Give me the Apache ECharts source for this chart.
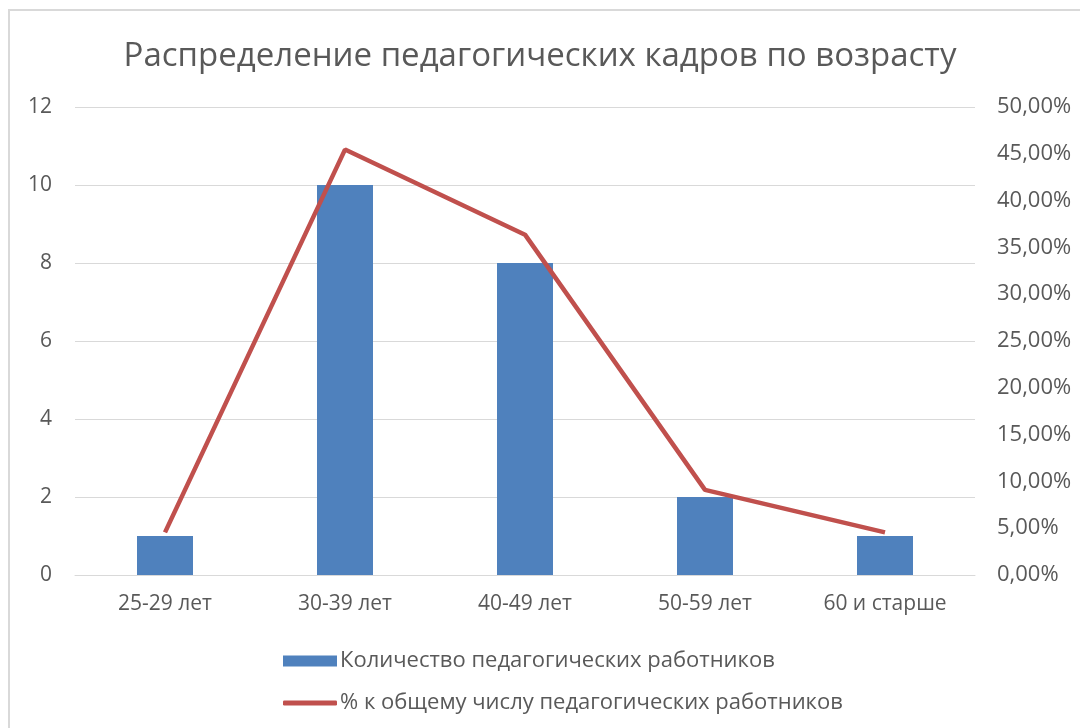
<!DOCTYPE html>
<html><head><meta charset="utf-8">
<script src="https://cdn.jsdelivr.net/npm/echarts@6/dist/echarts.min.js"></script>
<style>html,body{margin:0;padding:0;background:#fff}#c{width:1080px;height:728px}</style>
</head><body><div id="c"></div>
<script>
const categories = ['25-29 лет', '30-39 лет', '40-49 лет', '50-59 лет', '60 и старше'];
const counts = [1, 10, 8, 2, 1];
const percents = [4.55, 45.45, 36.36, 9.09, 4.55];
const leftTicks = [0, 2, 4, 6, 8, 10, 12];
const rightTicks = [0, 5, 10, 15, 20, 25, 30, 35, 40, 45, 50];
const seriesNames = ['Количество педагогических работников', '% к общему числу педагогических работников'];
const titleText = 'Распределение педагогических кадров по возрасту';

const FONT = '"Open Sans", sans-serif';
const TXT = '#595959';
const chart = echarts.init(document.getElementById('c'), null, {renderer: 'canvas'});
chart.setOption({
  backgroundColor: '#fff',
  animation: false,
  graphic: [{type: 'rect', shape: {x: 9, y: 10, width: 1200, height: 900}, style: {fill: 'none', stroke: '#D9D9D9', lineWidth: 2}, silent: true}],
  title: {text: titleText, left: 'center', top: 35, textStyle: {fontFamily: FONT, fontSize: 33, fontWeight: 'normal', color: TXT}},
  grid: {left: 75, right: 105, top: 107, bottom: 153},
  legend: [{
    orient: 'horizontal', left: 278, top: 645, itemWidth: 54, itemHeight: 11, itemGap: 6,
    textStyle: {fontFamily: FONT, fontSize: 22, color: TXT, padding: [0, 0, 0, -2]},
    data: [{name: seriesNames[0], icon: 'rect'}]
  }, {
    orient: 'horizontal', left: 278, top: 687, itemWidth: 54, itemHeight: 5, itemGap: 6,
    textStyle: {fontFamily: FONT, fontSize: 22, color: TXT, padding: [0, 0, 0, -2]},
    data: [{name: seriesNames[1], icon: 'roundRect'}]
  }],
  xAxis: {
    type: 'category', data: categories,
    axisLine: {lineStyle: {color: '#D9D9D9', width: 1}}, axisTick: {show: false},
    axisLabel: {fontFamily: FONT, fontSize: 21, color: TXT, margin: 19}
  },
  yAxis: [{
    type: 'value', min: leftTicks[0], max: leftTicks[leftTicks.length - 1], interval: 2,
    axisLine: {show: false}, axisTick: {show: false},
    splitLine: {lineStyle: {color: '#D9D9D9', width: 1}},
    axisLabel: {fontFamily: FONT, fontSize: 21, color: TXT, margin: 23}
  }, {
    type: 'value', min: rightTicks[0], max: rightTicks[rightTicks.length - 1], interval: 5,
    axisLine: {show: false}, axisTick: {show: false}, splitLine: {show: false},
    axisLabel: {fontFamily: FONT, fontSize: 22, color: TXT, margin: 22, formatter: v => v.toFixed(2).replace('.', ',') + '%'}
  }],
  series: [{
    name: seriesNames[0], type: 'bar', data: counts, barWidth: 56, yAxisIndex: 0,
    itemStyle: {color: '#4F81BD'}
  }, {
    name: seriesNames[1], type: 'line', data: percents, yAxisIndex: 1,
    symbol: 'none', lineStyle: {color: '#C0504D', width: 4.5}, itemStyle: {color: '#C0504D'}
  }]
});
</script></body></html>
